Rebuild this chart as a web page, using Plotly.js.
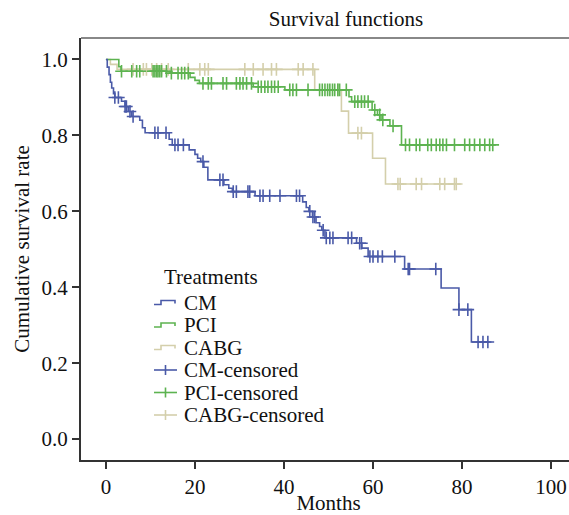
<!DOCTYPE html>
<html><head><meta charset="utf-8">
<script src="https://cdn.plot.ly/plotly-3.0.1.min.js"></script>
<style>html,body{margin:0;padding:0;overflow:hidden;background:#fff;width:569px;height:515px}</style>
</head><body><div id="chart"></div>
<script>
// ---- data ----
const groups = ["CM", "PCI", "CABG"];
const legendTitle = "Treatments";
const cmTimes = [0.3,0.7,1.0,1.3,1.7,2.0,3.5,4.3,5.0,5.8,7.6,8.2,8.8,14.2,14.9,18.7,20.0,20.6,21.3,22.0,22.9,26.5,27.6,28.4,33.5,44.2,45.0,45.6,46.4,47.2,48.0,48.5,49.2,56.3,57.5,58.9,67.1,75.3,79.3,82.1];
const cmSurv  = [0.98,0.96,0.94,0.925,0.91,0.90,0.89,0.876,0.863,0.85,0.84,0.82,0.807,0.79,0.775,0.762,0.75,0.74,0.731,0.716,0.683,0.67,0.661,0.652,0.641,0.625,0.61,0.60,0.585,0.57,0.56,0.55,0.53,0.516,0.503,0.481,0.448,0.398,0.341,0.256];
const cmEnd = 86.6;
const cmCensored = [2.0,2.8,4.3,4.6,5.4,6.1,11.0,11.7,13.5,15.5,16.2,17.4,21.8,25.6,26.3,28.6,29.3,31.9,32.3,34.6,35.3,36.8,39.1,42.8,43.5,45.8,46.5,46.9,48.8,49.5,50.3,51.0,54.4,55.2,57.0,57.4,59.3,60.0,61.1,62.1,64.9,67.9,68.2,74.1,79.3,81.3,83.6,84.7,85.8];

const pciTimes = [2.9,3.4,14.4,18.9,20.0,21.0,33.1,40.2,54.6,55.2,59.8,61.0,61.8,63.8,66.4];
const pciSurv  = [0.981,0.969,0.964,0.953,0.945,0.937,0.928,0.92,0.902,0.889,0.867,0.854,0.841,0.825,0.775];
const pciEnd = 87.3;
const pciCensored = [3.5,5.8,6.9,7.6,10.6,11.0,11.4,11.7,12.1,12.5,13.6,14.7,16.2,17.0,17.7,18.5,21.8,23.0,23.7,26.3,27.1,29.3,30.1,30.8,31.6,32.7,34.2,34.9,35.7,36.4,37.2,37.9,38.7,41.3,42.0,42.8,45.4,48.0,48.6,49.2,49.8,50.3,50.9,51.4,52.1,52.5,54.0,55.9,56.6,57.4,58.1,58.9,60.4,61.5,62.2,64.5,67.3,68.2,69.7,70.5,72.3,73.1,74.2,75.0,75.7,76.5,78.3,80.6,81.7,82.8,84.0,85.1,86.2,86.9];

const cabgTimes = [1.0,2.5,46.9,52.9,54.5,59.9,62.8];
const cabgSurv  = [0.987,0.974,0.92,0.864,0.806,0.74,0.672];
const cabgEnd = 78.7;
const cabgCensored = [6.1,8.4,9.1,10.3,11.4,12.5,14.0,18.5,21.1,22.2,23.0,31.2,33.1,35.3,37.2,38.3,43.2,44.3,46.5,52.1,56.6,57.4,65.6,66.1,69.7,70.9,75.0,76.1,78.3,78.7];

const xTicks = [0,20,40,60,80,100];
const yTicks = [0.0,0.2,0.4,0.6,0.8,1.0];

// ---- helpers ----
function stepXY(times, surv, end){
  const x=[0], y=[1.0];
  for(let i=0;i<times.length;i++){x.push(times[i]); y.push(surv[i]);}
  x.push(end); y.push(surv[surv.length-1]);
  return {x,y};
}
function survAt(times, surv, t){
  let s=1.0;
  for(let i=0;i<times.length;i++){ if(times[i]<=t) s=surv[i]; }
  return s;
}
function censXY(times, surv, cens){
  return {x:cens.slice(), y:cens.map(t=>survAt(times,surv,t))};
}
const colors = {CM:'#4a5aa8', PCI:'#5db350', CABG:'#d4cfab'};
const sets = {
  CM:{t:cmTimes,s:cmSurv,e:cmEnd,c:cmCensored},
  PCI:{t:pciTimes,s:pciSurv,e:pciEnd,c:pciCensored},
  CABG:{t:cabgTimes,s:cabgSurv,e:cabgEnd,c:cabgCensored}
};
const drawOrder = ["CABG","PCI","CM"];
const traces=[];
drawOrder.forEach(g=>{
  const d=stepXY(sets[g].t,sets[g].s,sets[g].e);
  traces.push({x:d.x,y:d.y,type:'scatter',mode:'lines',name:g,
    line:{shape:'hv',color:colors[g],width:1.6},hoverinfo:'skip'});
});
drawOrder.forEach(g=>{
  const d=censXY(sets[g].t,sets[g].s,sets[g].c);
  traces.push({x:d.x,y:d.y,type:'scatter',mode:'markers',name:g+'-censored',
    marker:{symbol:'cross-thin',size:9,line:{width:1.6,color:colors[g]},color:colors[g]},hoverinfo:'skip'});
});

const font='"Liberation Serif","Times New Roman",serif';
const FS=21;
// plot area in pixels
const L=81, R=576, T=38, B=460;
const px=x=>(x-L)/(R-L), py=y=>(B-y)/(B-T);

// custom legend (text + key glyphs)
const shapes=[{type:'line',xref:'paper',yref:'paper',x0:0,x1:1,y0:1,y1:1,line:{color:'#888',width:2}}];
const annotations=[{text:legendTitle,xref:'paper',yref:'paper',x:px(162),y:py(277),xanchor:'left',yanchor:'middle',
  showarrow:false,font:{family:font,size:FS,color:'#111'}}];
const legendNames=[...groups, ...groups.map(g=>g+'-censored')];
const rowY=[302.5,325,347.5,370,392.5,415];
legendNames.forEach((name,i)=>{
  const yc=rowY[i];
  const g=groups[i%3];
  annotations.push({text:name,xref:'paper',yref:'paper',x:px(182),y:py(yc),xanchor:'left',yanchor:'middle',
    showarrow:false,font:{family:font,size:FS,color:'#111'}});
  if(i<3){
    const path=`M${px(154)},${py(yc+2)} L${px(161)},${py(yc+2)} L${px(161)},${py(yc-2)} L${px(175)},${py(yc-2)} L${px(175)},${py(yc+1)}`;
    shapes.push({type:'path',xref:'paper',yref:'paper',path:path,line:{color:colors[g],width:1.6}});
  } else {
    shapes.push({type:'line',xref:'paper',yref:'paper',x0:px(154),x1:px(177),y0:py(yc),y1:py(yc),line:{color:colors[g],width:1.6}});
    shapes.push({type:'line',xref:'paper',yref:'paper',x0:px(165.5),x1:px(165.5),y0:py(yc-5),y1:py(yc+5),line:{color:colors[g],width:1.6}});
  }
});

const layout={
  width:577,height:515,
  margin:{l:L,r:577-R,t:T,b:515-B},
  paper_bgcolor:'#fff',plot_bgcolor:'#fff',
  font:{family:font,size:FS,color:'#111'},
  title:{text:'Survival functions',font:{family:font,size:FS,color:'#111'},
    xref:'container',x:346/577,xanchor:'center',yref:'container',y:1-19/515,yanchor:'middle'},
  xaxis:{range:[-5.6,105.6],tickvals:xTicks,ticks:'outside',ticklen:7,tickwidth:2,tickcolor:'#333',
    showline:true,linewidth:2,linecolor:'#333',showgrid:false,zeroline:false,
    tickfont:{family:font,size:FS,color:'#111'},
    title:{text:'Months',font:{family:font,size:FS,color:'#111'},standoff:0}},
  yaxis:{range:[-0.055,1.0566],tickvals:yTicks,tickformat:'.1f',ticks:'outside',ticklen:7,tickwidth:2,tickcolor:'#333',
    showline:true,linewidth:2,linecolor:'#333',showgrid:false,zeroline:false,
    tickfont:{family:font,size:FS,color:'#111'},
    title:{text:'Cumulative survival rate',font:{family:font,size:FS,color:'#111'},standoff:6}},
  shapes:shapes,annotations:annotations,
  showlegend:false
};
Plotly.newPlot('chart',traces,layout,{staticPlot:true,displayModeBar:false});
</script></body></html>
